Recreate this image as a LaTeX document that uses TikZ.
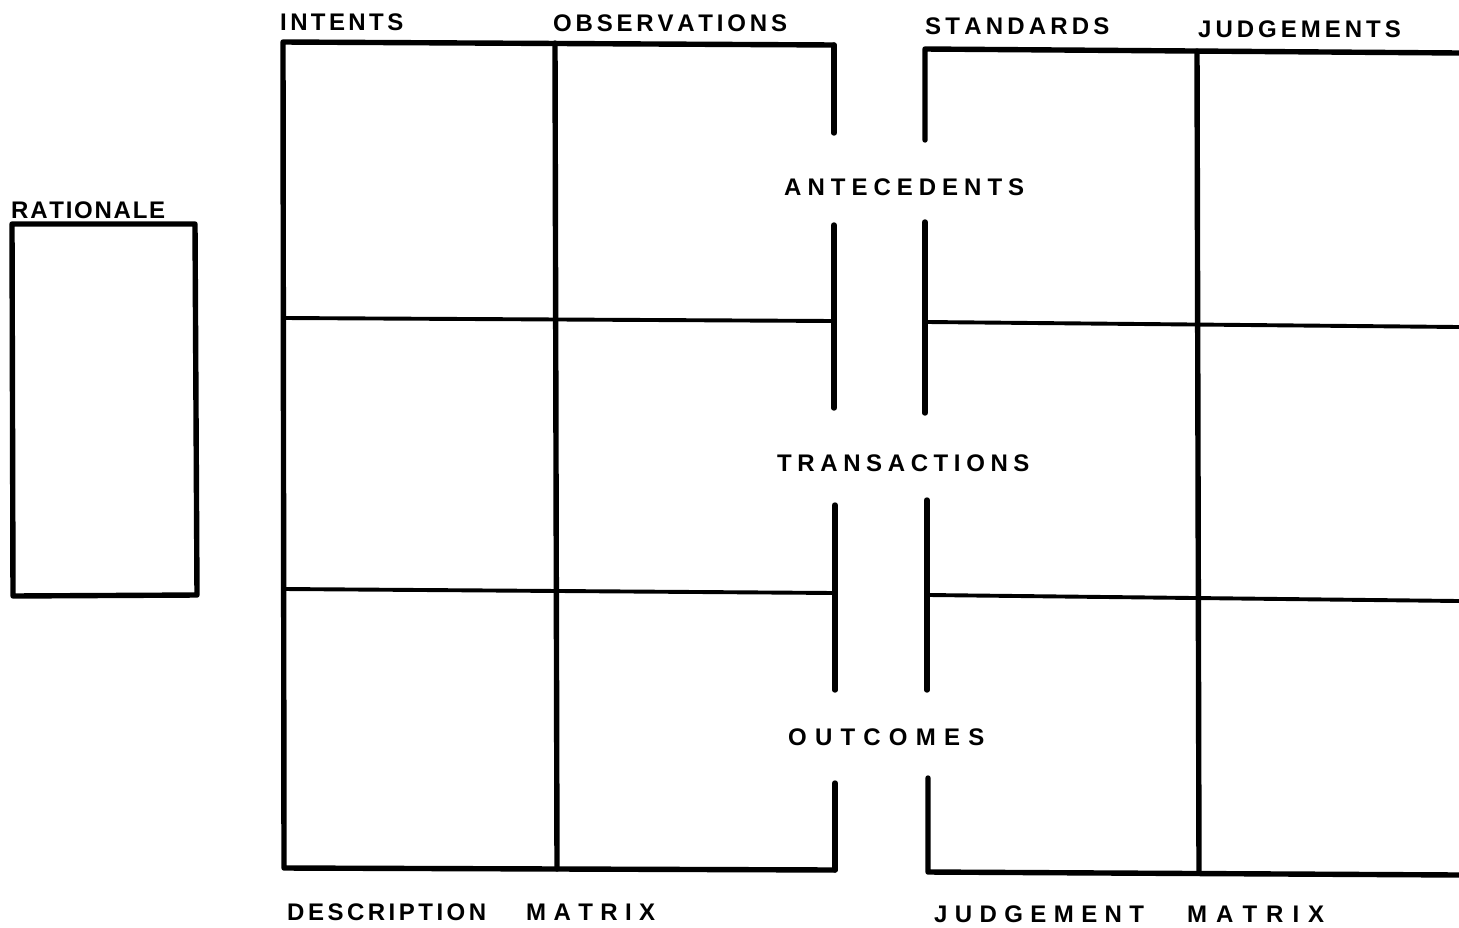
\documentclass[tikz,border=0pt]{standalone}
\usepackage{fontspec}
\newfontfamily\labfont{Liberation Sans}
\makeatletter
\newcommand\lsp[2]{\def\lsp@k{\kern#1pt}\lsp@loop#2\@nil}
\def\lsp@loop#1{\ifx#1\@nil\else#1\expandafter\lsp@next\fi}
\def\lsp@next#1{\ifx#1\@nil\else\lsp@k#1\expandafter\lsp@next\fi}
\makeatother
\begin{document}
\begin{tikzpicture}[x=1pt,y=-1pt,
  frame/.style={line width=5.4pt, line cap=round, line join=round},
  rule/.style={line width=3.9pt, line cap=round},
  lab/.style={font=\labfont\bfseries\fontsize{24}{24}\selectfont, inner sep=0pt, anchor=base west}]
\useasboundingbox (0,0) rectangle (1459,927);

% ---------- Rationale ----------
\coordinate (rTL) at (12,224);
\coordinate (rTR) at (195,224);
\coordinate (rBR) at (197,595);
\coordinate (rBL) at (13,596);
\draw[frame] (rTL) -- (rTR) -- (rBR) -- (rBL) -- cycle;
\node[lab] (rationale) at (11,218) {\lsp{1.75}{RATIONALE}};

% ---------- Description matrix ----------
\coordinate (dTL) at (283,42);
\coordinate (dTR) at (834,45);
\coordinate (dBL) at (284,868);
\coordinate (dBR) at (835,870);
\coordinate (dTM) at (555,43);
\coordinate (dBM) at (557,869);
\draw[frame] (dTR) -- (dTL) -- (dBL) -- (dBR);
\draw[frame] (dTM) -- (dBM);
\draw[frame] (dTR) -- (834,133);
\draw[frame] (834,225) -- (834,408);
\draw[frame] (835,505) -- (835,690);
\draw[frame] (835,783) -- (dBR);
\draw[rule] (284,318) -- (834,321);
\draw[rule] (284,589) -- (835,593);

% ---------- Judgement matrix ----------
\coordinate (jTL) at (925,49);
\coordinate (jTR) at (1459,53);
\coordinate (jBL) at (928,872);
\coordinate (jBR) at (1459,875);
\coordinate (jTM) at (1197,51);
\coordinate (jBM) at (1199,873);
\draw[frame] (jTR) -- (jTL) -- (925,140);
\draw[frame] (925,222) -- (925,413);
\draw[frame] (927,500) -- (927,690);
\draw[frame] (928,778) -- (jBL) -- (jBR);
\draw[frame] (jTM) -- (jBM);
\draw[rule] (927,322) -- (1459,327);
\draw[rule] (929,595) -- (1459,601);

% ---------- Column labels ----------
\node[lab] (intents) at (280,30) {\lsp{3.4}{INTENTS}};
\node[lab] (observations) at (553,31) {\lsp{3.8}{OBSERVATIONS}};
\node[lab] (standards) at (925,34) {\lsp{4.2}{STANDARDS}};
\node[lab] (judgements) at (1198,37) {\lsp{4.0}{JUDGEMENTS}};

% ---------- Row labels ----------
\node[lab] (antecedents) at (784,195) {\lsp{6.0}{ANTECEDENTS}};
\node[lab] (transactions) at (777,471) {\lsp{5.6}{TRANSACTIONS}};
\node[lab] (outcomes) at (788,745) {\lsp{8.2}{OUTCOMES}};

% ---------- Matrix titles ----------
\node[lab] (description) at (287,920) {\lsp{3.5}{DESCRIPTION}};
\node[lab] (dmatrix) at (526,920) {\lsp{7.4}{MATRIX}};
\node[lab] (judgement) at (934,922) {\lsp{7.4}{JUDGEMENT}};
\node[lab] (jmatrix) at (1187,922) {\lsp{9.0}{MATRIX}};
\end{tikzpicture}
\end{document}
